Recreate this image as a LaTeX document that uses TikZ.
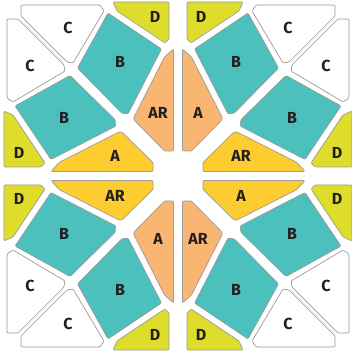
\documentclass[tikz,border=0pt]{standalone}
\usepackage{fontspec}
\setmainfont{Fira Sans}
\usepackage{tikz}
\definecolor{tileteal}{HTML}{4CC0BC}
\definecolor{tileyellow}{HTML}{FDCC30}
\definecolor{tileorange}{HTML}{F9B673}
\definecolor{tilelime}{HTML}{DFDD2C}
\definecolor{tileline}{HTML}{9B9B9B}
\definecolor{tiletext}{HTML}{231F20}

% one eighth of the pattern: C, B, D and the A piece
\newcommand{\tileoctant}[3]{%
  \draw[tile, fill=white] (-171,157) -- (-160,157) -- (-114,111) -- (-113,105) -- (-165,74) -- (-171,78) -- cycle;
  \draw[tile, fill=tileteal] (-163,70) -- (-108,100.5) -- (-63,56.5) -- (-62,50) -- (-127,16.5) -- cycle;
  \draw[tile, fill=tilelime] (-174,65) -- (-165,61) -- (-133,13) -- (-137,9) -- (-174,9) -- cycle;
  \draw[tile, fill=#1] (-127,4.5) -- (-119,13.5) -- (-58,44.5) -- (-55,43) -- (-25,13.5) -- (-25,4.5) -- cycle;
  \node[lbl] (c#3) at (-148,110) {C};
  \node[lbl] (b#3) at (-114,58) {B};
  \node[lbl] (d#3) at (-159,23) {D};
  \node[lbl] (a#3) at (-63,20) {#2};
}

\begin{document}
\begin{tikzpicture}[
  x=1pt, y=1pt,
  tile/.style = {draw=tileline, line width=0.7pt, line join=round, rounded corners=1.2pt},
  lbl/.style = {font=\bfseries\fontsize{16}{18}\selectfont, text=tiletext, inner sep=0pt}
  ]

\useasboundingbox (-178,-176) rectangle (173,176);

% four quadrants, each one split along its diagonal
\foreach \sx/\sy/\ha/\va/\n in {1/1/A/AR/tl, -1/1/AR/A/tr, 1/-1/AR/A/bl, -1/-1/A/AR/br} {
  \begin{scope}[xscale=\sx, yscale=\sy]
    \tileoctant{tileyellow}{\ha}{\n h}
    \begin{scope}[cm={0,-1,-1,0,(0,0)}]
      \tileoctant{tileorange}{\va}{\n v}
    \end{scope}
  \end{scope}
}
\end{tikzpicture}
\end{document}
